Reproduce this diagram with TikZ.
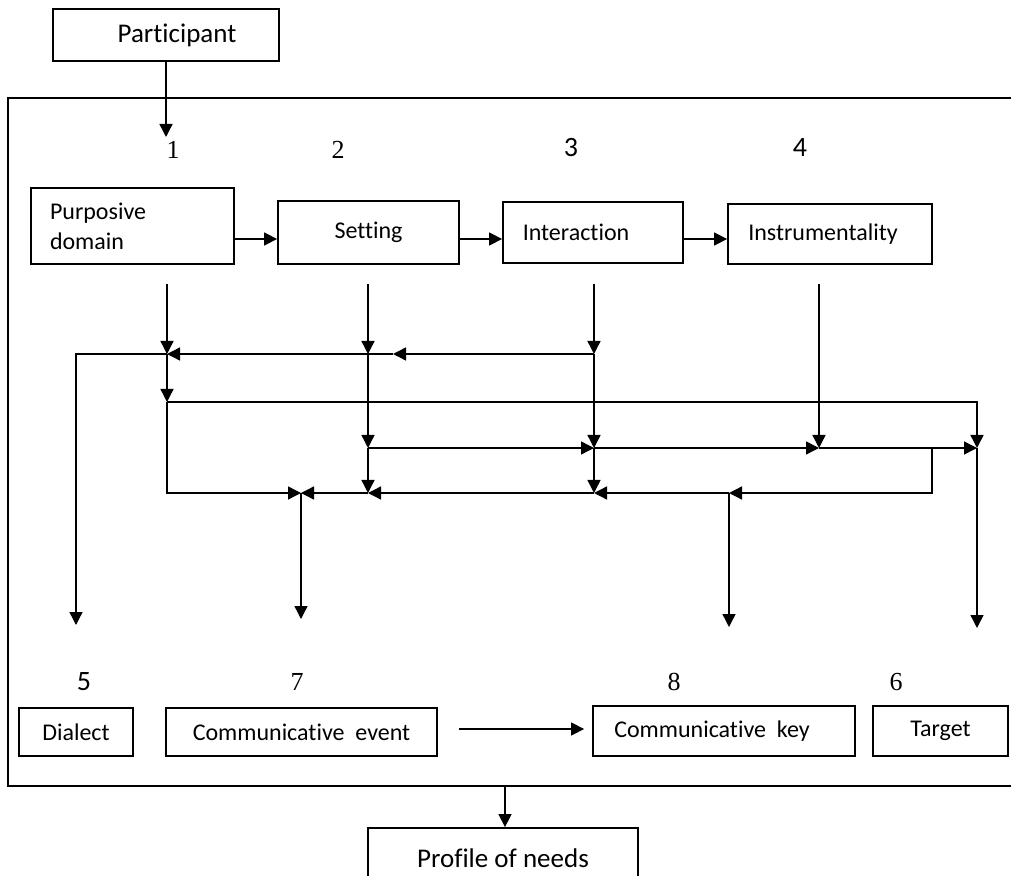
\documentclass[tikz,border=0pt]{standalone}
\usepackage{fontspec}
\setmainfont[Ligatures={NoCommon,NoContextual,NoRequired}]{Carlito}
\newfontfamily\numfont{Liberation Serif}
\usetikzlibrary{arrows.meta}

\begin{document}
\begin{tikzpicture}[x=0.5pt, y=-0.5pt,
        box/.style={draw, line width=0.9pt, inner sep=0pt, font=\fontsize{12}{15}\selectfont},
        bigbox/.style={box, font=\fontsize{13.5}{16}\selectfont},
        num/.style={font=\numfont\fontsize{13}{15}\selectfont},
        snum/.style={font=\fontsize{14}{16}\selectfont},
        wire/.style={line width=0.7pt},
        link/.style={wire, -{Triangle[length=6.5pt,width=6.5pt]}}]
            \useasboundingbox (0,0) rectangle (1011,876);
            \clip (0,0) rectangle (1011,876);
            \draw[line width=0.8pt] (1021,98) -- (8,98) -- (8,786) -- (1021,786);
            \node[bigbox, minimum width=113pt, minimum height=26pt] (part) at (166,35) {\hspace*{11pt}Participant};
            \node[bigbox, minimum width=135pt, minimum height=30pt] (prof) at (503,858) {Profile of needs};
            \node[num] (n1) at (173,150) {1};
            \node[num] (n2) at (338,150) {2};
            \node[snum] (n3) at (571,148) {3};
            \node[snum] (n4) at (800,148) {4};
            \node[snum] (n5) at (84,682) {5};
            \node[num] (n7) at (297,682) {7};
            \node[num] (n8) at (674,682) {8};
            \node[num] (n6) at (896,682) {6};
            \node[box, minimum width=101.5pt, minimum height=38pt, text width=82.5pt, inner xsep=9.5pt, align=left] (purp) at (132.5,226) {Purposive\\domain};
            \node[box, minimum width=90.5pt, minimum height=31.5pt] (set) at (368.5,232.5) {Setting};
            \node[box, minimum width=90pt, minimum height=30.5pt] (inter) at (593,232.5) {Interaction\hspace*{17pt}};
            \node[box, minimum width=102pt, minimum height=30pt] (instr) at (830,234) {Instrumentality\hspace*{7pt}};
            \node[box, minimum width=57pt, minimum height=24pt] (dial) at (76,732) {Dialect};
            \node[box, minimum width=135.5pt, minimum height=24pt] (event) at (301.5,732) {Communicative\ \ event};
            \node[box, minimum width=131pt, minimum height=25pt] (key) at (724,731) {Communicative\ \ key\hspace*{12pt}};
            \node[box, minimum width=67.5pt, minimum height=25pt] (targ) at (940.5,731) {Target};
            \coordinate (in1) at (166,137);
            \coordinate (r0) at (0,239);
            \coordinate (r5) at (0,729);
            \coordinate (fb) at (505,786);
            \coordinate (tA) at (167,284);
            \coordinate (tB) at (368,284);
            \coordinate (tC) at (594,284);
            \coordinate (tD) at (819,284);
            \coordinate (A1) at (167,354);
            \coordinate (A2) at (167,402);
            \coordinate (A4) at (167,493);
            \coordinate (B1) at (368,354);
            \coordinate (B3) at (368,448);
            \coordinate (B4) at (368,493);
            \coordinate (C1) at (594,354);
            \coordinate (C3) at (594,448);
            \coordinate (C4) at (594,493);
            \coordinate (D3) at (819,448);
            \coordinate (E2) at (977,402);
            \coordinate (E3) at (977,448);
            \coordinate (F4) at (301,493);
            \coordinate (G4) at (729,493);
            \coordinate (H3) at (932,448);
            \coordinate (H4) at (932,493);
            \coordinate (L1) at (76,354);
            \coordinate (M1) at (393,354);
            \coordinate (bL) at (76,625);
            \coordinate (bF) at (301,619);
            \coordinate (bG) at (729,627);
            \coordinate (bE) at (977,628);
            \draw[link] (part.south) -- (in1);
            \draw[link] (purp.east |- r0) -- (set.west |- r0);
            \draw[link] (set.east |- r0) -- (inter.west |- r0);
            \draw[link] (inter.east |- r0) -- (instr.west |- r0);
            \draw[link] (tA) -- (A1);
            \draw[link] (A1) -- (A2);
            \draw[link] (A2) -- (E2) -- (E3);
            \draw[link] (A2) -- (A4) -- (F4);
            \draw[link] (tB) -- (B1);
            \draw[link] (B1) -- (B3);
            \draw[link] (B3) -- (B4);
            \draw[link] (tC) -- (C1);
            \draw[link] (C1) -- (M1);
            \draw[link] (M1) -- (A1);
            \draw[link] (A1) -- (L1) -- (bL);
            \draw[link] (C1) -- (C3);
            \draw[link] (C3) -- (C4);
            \draw[link] (B3) -- (C3);
            \draw[link] (C3) -- (D3);
            \draw[link] (D3) -- (E3);
            \draw[link] (tD) -- (D3);
            \draw[link] (E3) -- (bE);
            \draw[link] (H3) -- (H4) -- (G4);
            \draw[link] (G4) -- (C4);
            \draw[link] (C4) -- (B4);
            \draw[link] (B4) -- (F4);
            \draw[link] (F4) -- (bF);
            \draw[link] (G4) -- (bG);
            \draw[link, shorten <=10.5pt, shorten >=4pt] (event.east |- r5) -- (key.west |- r5);
            \draw[link] (fb) -- (fb |- prof.north);
        \end{tikzpicture}
\end{document}
